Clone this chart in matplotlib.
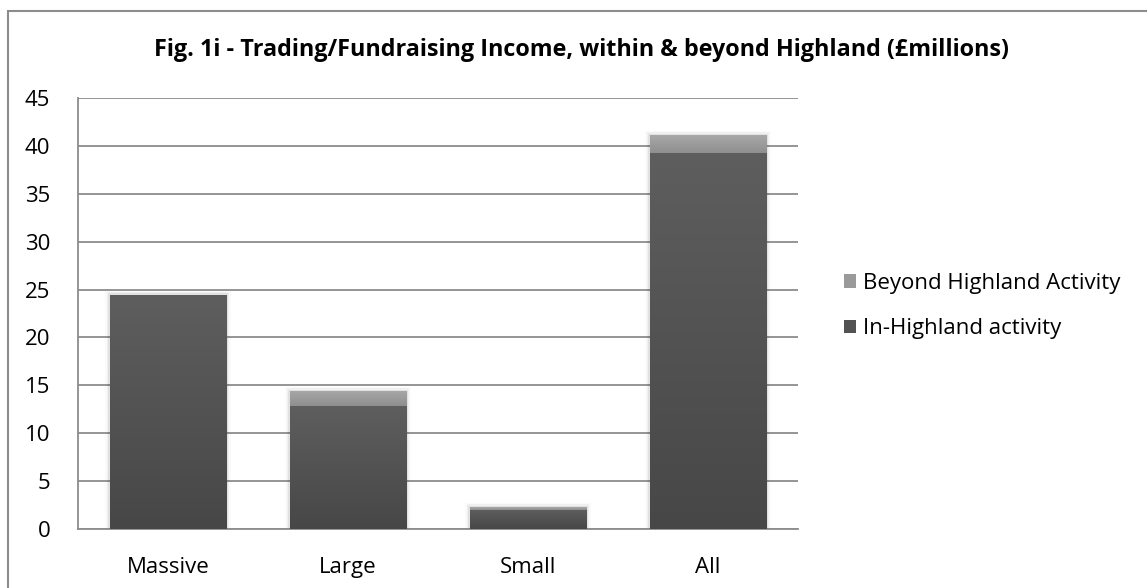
import numpy as np
import matplotlib
matplotlib.use("Agg")
import matplotlib.pyplot as plt
from matplotlib.patches import Rectangle

plt.rcParams['font.family'] = ['Open Sans', 'DejaVu Sans']

categories = ["Massive", "Large", "Small", "All"]
in_highland = [24.4, 12.8, 2.0, 39.3]
beyond_highland = [0.05, 1.6, 0.27, 1.8]
yticks = [0, 5, 10, 15, 20, 25, 30, 35, 40, 45]

fig = plt.figure(figsize=(11.47, 5.88), dpi=100)
ax = fig.add_axes([78 / 1147, 1 - 529 / 588, 720 / 1147, 431 / 588])

# outer chart frame (runs off the right/bottom edge)
fig.patches.append(Rectangle((8 / 1147, -0.05), 1.1, 1 - 11 / 588 + 0.05,
                             transform=fig.transFigure, fill=False,
                             edgecolor="#8c8c8c", linewidth=1.5))

x = np.arange(len(categories))
w = 0.65

def gradient_bars(bars, top_col, bot_col):
    grad = np.linspace(0, 1, 256).reshape(-1, 1)
    c0 = np.array(matplotlib.colors.to_rgb(top_col))
    c1 = np.array(matplotlib.colors.to_rgb(bot_col))
    img = c0 * (1 - grad[..., None]) + c1 * grad[..., None]
    for b in bars:
        bx, by = b.get_x(), b.get_y()
        bw, bh = b.get_width(), b.get_height()
        if bh <= 0:
            continue
        im = ax.imshow(img, extent=(bx, bx + bw, by, by + bh), origin="upper",
                       aspect="auto", zorder=3, interpolation="bilinear")
        im.set_clip_path(b)

# soft shadow behind the stacks
for xi, a, b in zip(x, in_highland, beyond_highland):
    for k, alpha in enumerate([0.06, 0.04, 0.02]):
        d = 0.008 * (k + 1)
        ax.add_patch(Rectangle((xi - w / 2 - d, 0), w + 2 * d, a + b + 0.15 * (k + 1),
                               facecolor="black", alpha=alpha, edgecolor="none", zorder=2))

b1 = ax.bar(x, in_highland, width=w, color="#525252", zorder=3,
            label="In-Highland activity")
b2 = ax.bar(x, beyond_highland, width=w, bottom=in_highland, color="#9a9a9a",
            zorder=3, label="Beyond Highland Activity")
gradient_bars(b1, "#5e5e5e", "#474747")
gradient_bars(b2, "#a8a8a8", "#8f8f8f")

ax.set_xlim(-0.5, len(categories) - 0.5)
ax.set_ylim(0, 45)
ax.set_yticks(yticks)
ax.set_xticks(x)
ax.set_xticklabels(categories)
ax.yaxis.grid(True, color="#8c8c8c", linewidth=1.3)
ax.set_axisbelow(True)
for s in ["top", "right"]:
    ax.spines[s].set_visible(False)
ax.spines["left"].set_color("#8c8c8c")
ax.spines["bottom"].set_color("#8c8c8c")
ax.spines["left"].set_linewidth(1.3)
ax.spines["bottom"].set_linewidth(1.3)
ax.tick_params(axis="y", length=0, labelsize=16, pad=20)
ax.tick_params(axis="x", length=0, labelsize=16, pad=20)

fig.text(582 / 1147, 1 - 50 / 588,
         "Fig. 1i - Trading/Fundraising Income, within & beyond Highland (£millions)",
         ha="center", va="center", fontsize=16.8, fontweight="bold")

handles, labels = ax.get_legend_handles_labels()
leg = fig.legend(handles[::-1], labels[::-1], loc="center left",
                 bbox_to_anchor=(824 / 1147, 1 - 306 / 588), frameon=False,
                 fontsize=16, handlelength=0.55, handleheight=0.55,
                 handletextpad=0.3, labelspacing=1.1)

fig.savefig("out.png", dpi=100, facecolor="white")
